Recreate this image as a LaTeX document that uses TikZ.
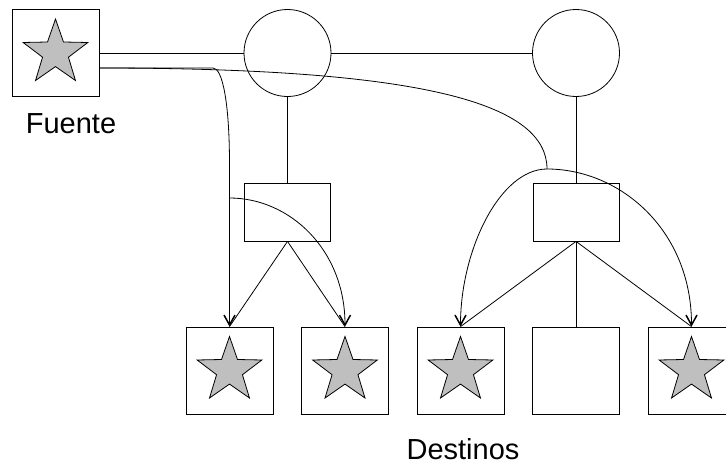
\documentclass[tikz,border=0pt]{standalone}
\usepackage{fontspec}
\setmainfont{Liberation Sans}
\usetikzlibrary{shapes, arrows.meta, positioning}
\tikzstyle{equipo} = [draw, rectangle, minimum width=87pt, minimum height=87pt, inner sep=0pt]
\tikzstyle{router} = [draw, circle, minimum size=87pt, inner sep=0pt]
\tikzstyle{switch} = [draw, rectangle, minimum width=86pt, minimum height=58pt, inner sep=0pt]
\tikzstyle{estrella} = [draw, star, star points=5, star point ratio=2.5, minimum size=68pt, inner sep=0pt, fill=gray!50]
\tikzstyle{etiqueta} = [font=\fontsize{29}{34}\selectfont, inner sep=0pt]
\tikzstyle{flujo} = [-{Straight Barb[length=10pt,width=11pt,line width=1.5pt]}]

\begin{document}
\begin{tikzpicture}[x=1pt, y=-1pt, line width=0.8pt]
	\clip (0,0) rectangle (726,466);
	\node[equipo] (src) at (55.5,53) {};
	\node[estrella] (s0) at (src) {};
	\node[etiqueta] (fuente) at (71,123.5) {Fuente};
	\node[router] (r1) at (287.5,53) {};
	\node[router] (r2) at (576,53) {};
	\node[switch] (sw1) at (287.5,212) {};
	\node[switch] (sw2) at (576,212) {};
	\node[equipo] (d1) at (229.5,370.5) {};
	\node[equipo] (d2) at (345,370.5) {};
	\node[equipo] (d3) at (460.5,370.5) {};
	\node[equipo] (d4) at (576,370.5) {};
	\node[equipo] (d5) at (691.5,370.5) {};
	\node[estrella] (s1) at (d1) {};
	\node[estrella] (s2) at (d2) {};
	\node[estrella] (s3) at (d3) {};
	\node[estrella] (s5) at (d5) {};
	\node[etiqueta] (destinos) at (463,449) {Destinos};

	\draw (src.east) -- (r1.west);
	\draw (r1.east) -- (r2.west);
	\draw (r1.south) -- (sw1.north);
	\draw (r2.south) -- (sw2.north);
	\draw (sw1.south) -- (d1.north);
	\draw (sw1.south) -- (d2.north);
	\draw (sw2.south) -- (d3.north);
	\draw (sw2.south) -- (d4.north);
	\draw (sw2.south) -- (d5.north);

	\coordinate[below=15pt of src.east] (salida);
	\coordinate (desvio) at (213,68);
	\coordinate (rama) at (229.5,198);
	\coordinate (cruce) at (547,169);
	\draw[flujo] (salida) -- (desvio) .. controls (222,68) and (229.5,100) .. (229.5,165) -- (d1.north);
	\draw[flujo] (rama) .. controls (290,198) and (345,250) .. (d2.north);
	\draw (salida) .. controls (430,68) and (547,105) .. (cruce);
	\draw[flujo] (cruce) .. controls (500,169) and (460.5,250) .. (d3.north);
	\draw[flujo] (cruce) .. controls (620,169) and (691.5,230) .. (d5.north);
\end{tikzpicture}
\end{document}
